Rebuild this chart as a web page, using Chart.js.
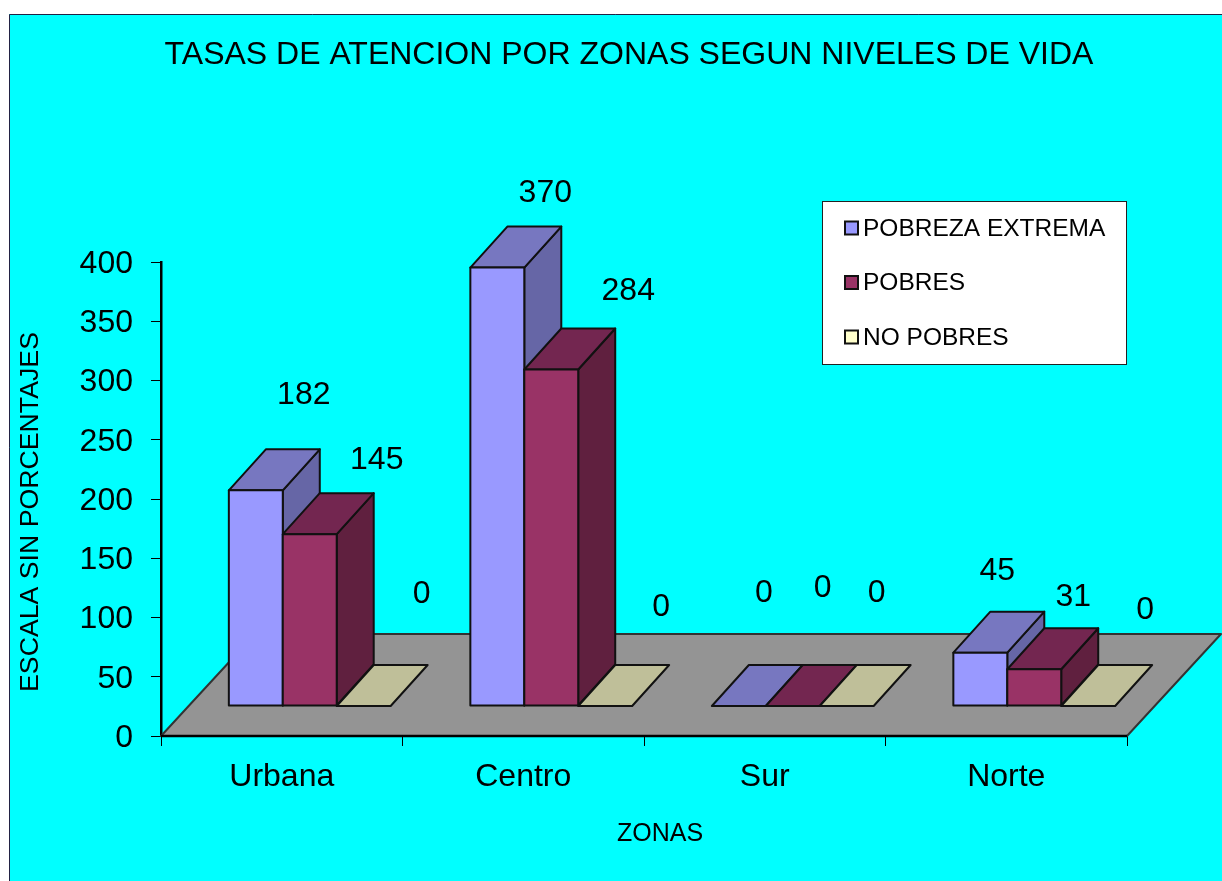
<!DOCTYPE html>
<html><head><meta charset="utf-8">
<style>html,body{margin:0;padding:0;background:#fff;overflow:hidden}canvas{position:absolute;left:0;top:0}</style>
<script src="https://cdn.jsdelivr.net/npm/chart.js@4/dist/chart.umd.min.js"></script>
</head><body><div style="width:1222px;height:881px"><canvas id="c" width="1222" height="881"></canvas></div>
<script>
const categories = ['Urbana','Centro','Sur','Norte'];
const pobrezaExtrema = [182,370,0,45];
const pobres = [145,284,0,31];
const noPobres = [0,0,0,0];
const seriesNames = ['POBREZA EXTREMA','POBRES','NO POBRES'];
const chartTitle = 'TASAS DE ATENCION POR ZONAS SEGUN NIVELES DE VIDA';
const yTitle = 'ESCALA SIN PORCENTAJES';
const xTitle = 'ZONAS';

const FONT = '"Liberation Sans", Arial, sans-serif';
const front = ['#9999ff','#993366','#ffffcc'];
const topFace = ['#7777c0','#732650','#bfbf99'];
const sideFace = ['#6666a6','#60203f','#a6a680'];
// hand-placed value labels, offset from each bar's top centre: [dx, dy]
const labelOffsets = [
  [[48,-95],[48,-74],[25,-113],[17,-82]],
  [[67,-74],[77,-78],[30,-118],[39,-72]],
  [[58,-112],[56,-99],[30,-113],[57,-96]]
];
const barShift = {x:28, y:-30};
const depth = {x:37, y:-41};
const floorDepth = {x:94, y:-102};

const poly = (ctx, pts, fill, stroke, lw) => {
  ctx.beginPath();
  pts.forEach((p,i)=> i?ctx.lineTo(p[0],p[1]):ctx.moveTo(p[0],p[1]));
  ctx.closePath();
  ctx.lineJoin='round';
  ctx.fillStyle=fill; ctx.fill();
  ctx.strokeStyle=stroke; ctx.lineWidth=lw; ctx.stroke();
};
const text = (ctx, s, x, y, size, rot) => {
  ctx.save();
  ctx.translate(x,y);
  if(rot) ctx.rotate(rot);
  ctx.font = size+'px '+FONT;
  ctx.fillStyle='#000'; ctx.textAlign='center'; ctx.textBaseline='middle';
  ctx.fillText(s,0,0);
  ctx.restore();
};

const scene = {
  id:'scene',
  beforeDraw(chart){
    const ctx=chart.ctx;
    ctx.save();
    ctx.fillStyle='#00ffff'; ctx.fillRect(9,14,1213,867);
    ctx.strokeStyle='#224'; ctx.lineWidth=1;
    ctx.beginPath(); ctx.moveTo(9.5,881); ctx.lineTo(9.5,14.5); ctx.lineTo(1222,14.5); ctx.stroke();
    ctx.restore();
    // recentre title over the plot as in the reference
    const t=chart.titleBlock; t.left=36; t.right=1222;
  },
  beforeDatasetDraw(){ return false; },
  beforeDatasetsDraw(chart){
    const ctx=chart.ctx, xs=chart.scales.x, ys=chart.scales.y;
    const L=xs.left, R=xs.right, B=ys.bottom;
    ctx.save();
    poly(ctx,[[L,B],[R,B],[R+floorDepth.x,B+floorDepth.y],[L+floorDepth.x,B+floorDepth.y]],'#949494','#333',2);
    ctx.strokeStyle='#000'; ctx.lineWidth=2.5;
    ctx.beginPath(); ctx.moveTo(L,B); ctx.lineTo(R,B); ctx.stroke();
    ctx.translate(barShift.x,barShift.y);
    chart.data.datasets.forEach((ds,i)=>{
      const meta=chart.getDatasetMeta(i);
      meta.data.forEach(bar=>{
        const w=bar.width, x0=bar.x-w/2, x1=bar.x+w/2, y=bar.y, b=bar.base;
        if(b-y>0.5) poly(ctx,[[x1,y],[x1+depth.x,y+depth.y],[x1+depth.x,b+depth.y],[x1,b]],sideFace[i],'#111',2);
        poly(ctx,[[x0,y],[x1,y],[x1+depth.x,y+depth.y],[x0+depth.x,y+depth.y]],topFace[i],'#111',2);
      });
      meta.controller.draw();
      meta.data.forEach(bar=>{
        const h=bar.base-bar.y;
        if(h>0.5){
          ctx.strokeStyle='#111'; ctx.lineWidth=2;
          ctx.strokeRect(bar.x-bar.width/2,bar.y,bar.width,h);
        }
      });
    });
    ctx.restore();
  },
  afterDatasetsDraw(chart){
    const ctx=chart.ctx;
    chart.data.datasets.forEach((ds,i)=>{
      chart.getDatasetMeta(i).data.forEach((bar,j)=>{
        const o=labelOffsets[i][j];
        text(ctx,String(ds.data[j]),bar.x+barShift.x+o[0],bar.y+barShift.y+o[1],32);
      });
    });
    text(ctx,yTitle,31,512,26.7,-Math.PI/2);
    text(ctx,xTitle,660,834,25);
    // legend
    ctx.save();
    ctx.fillStyle='#fff'; ctx.fillRect(822.5,201.5,304,163);
    ctx.strokeStyle='#222'; ctx.lineWidth=1; ctx.strokeRect(822.5,201.5,304,163);
    seriesNames.forEach((n,i)=>{
      const cy=228+i*54.5;
      ctx.fillStyle=front[i]; ctx.fillRect(845,cy-6.5,13,13);
      ctx.strokeStyle='#111'; ctx.lineWidth=2; ctx.strokeRect(845,cy-6.5,13,13);
      ctx.font='24.5px '+FONT; ctx.fillStyle='#000'; ctx.textAlign='left'; ctx.textBaseline='middle';
      ctx.fillText(n,863,cy+1);
    });
    ctx.restore();
  }
};

const mk=(label,data,i)=>({label,data,backgroundColor:front[i],borderWidth:0,clip:false});
new Chart(document.getElementById('c'),{
  type:'bar',
  data:{labels:categories,datasets:[mk(seriesNames[0],pobrezaExtrema,0),mk(seriesNames[1],pobres,1),mk(seriesNames[2],noPobres,2)]},
  plugins:[scene],
  options:{
    responsive:false,animation:false,devicePixelRatio:1,
    layout:{padding:{left:0,right:95,top:0,bottom:0}},
    datasets:{bar:{categoryPercentage:0.67,barPercentage:1}},
    plugins:{
      legend:{display:false},tooltip:{enabled:false},
      title:{display:true,text:chartTitle,color:'#000',font:{family:FONT,size:32,weight:'normal',lineHeight:1.2},
        padding:{top:36,bottom:187.6}}
    },
    scales:{
      x:{afterFit(s){s.height=145;},grid:{drawOnChartArea:false,tickLength:10,tickColor:'#000',tickWidth:1},border:{color:'#000',width:2},
        ticks:{color:'#000',padding:12,maxRotation:0,autoSkip:false,font:{family:FONT,size:32}}},
      y:{min:0,max:400,afterFit(s){s.width=161;},grid:{drawOnChartArea:false,tickLength:10,tickColor:'#000',tickWidth:1},border:{color:'#000',width:2.5},
        ticks:{stepSize:50,color:'#000',padding:18,labelOffset:2,font:{family:FONT,size:32}}}
    }
  }
});
</script></body></html>
